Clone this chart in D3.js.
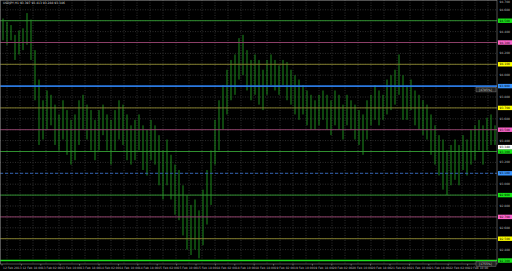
<!DOCTYPE html>
<html>
<head>
<meta charset="utf-8">
<script src="https://cdn.jsdelivr.net/npm/d3@7"></script>
<style>
  html, body { margin: 0; padding: 0; background: #000; }
  svg { display: block; }
</style>
</head>
<body>
<div id="chart"></div>
<script>
// chart header
var symbolTitle = "USDJPY,H1  93.397 93.413 93.288 93.346";

// hourly bars, high / low
var barHigh = [94.52, 94.49, 94.46, 94.37, 94.41, 94.43, 94.57, 94.51, 94.23, 93.96,
  93.77, 93.86, 93.82, 93.73, 93.64, 93.77, 93.68, 93.59, 93.64, 93.77,
  93.82, 93.73, 93.68, 93.59, 93.68, 93.73, 93.64, 93.59, 93.68, 93.77,
  93.73, 93.64, 93.54, 93.59, 93.64, 93.54, 93.50, 93.59, 93.54, 93.45,
  93.31, 93.41, 93.27, 93.18, 93.13, 92.99, 92.90, 92.81, 92.86, 92.76,
  92.95, 93.13, 93.31, 93.59, 93.77, 93.91, 94.05, 94.14, 94.19, 94.34,
  94.37, 94.23, 94.14, 94.19, 94.14, 94.05, 94.14, 94.19, 94.14, 94.09,
  94.14, 94.12, 94.05, 94.00, 93.96, 93.91, 93.86, 93.82, 93.77, 93.82,
  93.86, 93.82, 93.77, 93.86, 93.82, 93.73, 93.82, 93.77, 93.73, 93.68,
  93.64, 93.77, 93.82, 93.91, 93.86, 93.82, 93.96, 94.00, 94.05, 94.19,
  94.00, 93.91, 93.96, 93.86, 93.82, 93.77, 93.73, 93.64, 93.54, 93.45,
  93.41, 93.31, 93.36, 93.41, 93.36, 93.45, 93.41, 93.50, 93.54, 93.59,
  93.54, 93.61, 93.64, 93.54];
var barLow = [94.32, 94.28, 94.32, 94.14, 94.19, 94.23, 94.28, 94.14, 93.77, 93.36,
  93.41, 93.50, 93.54, 93.36, 93.31, 93.41, 93.27, 93.18, 93.22, 93.36,
  93.50, 93.41, 93.31, 93.22, 93.31, 93.45, 93.31, 93.18, 93.31, 93.41,
  93.36, 93.22, 93.18, 93.22, 93.31, 93.13, 93.08, 93.22, 93.18, 92.99,
  92.86, 92.99, 92.86, 92.72, 92.67, 92.53, 92.40, 92.35, 92.40, 92.32,
  92.44, 92.63, 92.81, 93.18, 93.31, 93.50, 93.64, 93.77, 93.82, 93.96,
  94.00, 93.86, 93.77, 93.82, 93.73, 93.68, 93.82, 93.91, 93.86, 93.82,
  93.91, 93.77, 93.73, 93.64, 93.59, 93.64, 93.54, 93.50, 93.50, 93.54,
  93.59, 93.50, 93.45, 93.54, 93.50, 93.41, 93.54, 93.50, 93.41, 93.36,
  93.27, 93.41, 93.54, 93.59, 93.54, 93.59, 93.64, 93.68, 93.73, 93.82,
  93.59, 93.59, 93.68, 93.54, 93.50, 93.45, 93.41, 93.27, 93.18, 93.08,
  92.95, 92.90, 92.99, 93.04, 92.99, 93.13, 93.08, 93.18, 93.22, 93.31,
  93.18, 93.31, 93.36, 93.36];

// horizontal levels drawn on the chart
var levelPrice = [94.50, 94.30, 94.10, 93.90, 93.70, 93.50, 93.30, 93.10, 92.90, 92.70, 92.50, 92.30];
var levelKind  = ["green", "pink", "olive", "blue", "olive", "pink", "green", "blueDash", "green", "pink", "olive", "lime"];

// price scale labels (every 0.10)
var priceTicks = [94.70, 94.60, 94.50, 94.40, 94.30, 94.20, 94.10, 94.00, 93.90, 93.80, 93.70, 93.60,
  93.50, 93.40, 93.30, 93.20, 93.10, 93.00, 92.90, 92.80, 92.70, 92.60, 92.50, 92.40, 92.30];

// time scale labels
var timeLabels = ["12 Feb 2013", "12 Feb 18:00", "13 Feb 02:00", "13 Feb 10:00", "13 Feb 18:00",
  "14 Feb 02:00", "14 Feb 10:00", "14 Feb 18:00", "15 Feb 02:00", "15 Feb 10:00",
  "15 Feb 18:00", "18 Feb 02:00", "18 Feb 10:00", "18 Feb 18:00", "19 Feb 02:00",
  "19 Feb 10:00", "19 Feb 18:00", "20 Feb 02:00", "20 Feb 10:00", "20 Feb 18:00",
  "21 Feb 02:00", "21 Feb 10:00", "21 Feb 18:00", "22 Feb 02:00", "22 Feb 10:00"];

var lastBid = 93.34;

var W = 512, H = 271;
var plotR = 497, plotB = 264;

var lineColor = { green: "#2f8f2f", pink: "#8c3f68", olive: "#7f7b2c", blue: "#2a78e0", blueDash: "#2f5fb0", lime: "#1fe01f" };
var tagColor  = { green: "#19e619", pink: "#ff66cc", olive: "#ffff00", blue: "#3a95ff", blueDash: "#3a95ff", lime: "#19e619" };

var svg = d3.select("#chart").append("svg").attr("width", W).attr("height", H)
  .style("background", "#000");

// one level step = 21.8px
var y = d3.scaleLinear().domain([94.50, 92.30]).range([20.7, 20.7 + 11 * 21.8]);
var x = d3.scaleLinear().domain([0, barHigh.length - 1]).range([3, 495]);

// grid
var gridV = d3.range(7, plotR, 13);
svg.append("g").selectAll("line").data(gridV).enter().append("line")
  .attr("x1", d => d).attr("x2", d => d).attr("y1", 0).attr("y2", plotB)
  .attr("stroke", "#3a3a3a").attr("stroke-width", 0.8).attr("stroke-dasharray", "1,1.5");
svg.append("g").selectAll("line").data(priceTicks).enter().append("line")
  .attr("x1", 0).attr("x2", plotR).attr("y1", d => y(d)).attr("y2", d => y(d))
  .attr("stroke", "#3a3a3a").attr("stroke-width", 0.8).attr("stroke-dasharray", "1,1.5");

// bars
svg.append("g").selectAll("line").data(barHigh).enter().append("line")
  .attr("x1", (d, i) => x(i)).attr("x2", (d, i) => x(i))
  .attr("y1", d => y(d)).attr("y2", (d, i) => y(barLow[i]))
  .attr("stroke", "#1c8c1c").attr("stroke-width", 1);

// level lines
svg.append("g").selectAll("line").data(levelPrice).enter().append("line")
  .attr("x1", 0).attr("x2", plotR).attr("y1", d => y(d)).attr("y2", d => y(d))
  .attr("stroke", (d, i) => lineColor[levelKind[i]])
  .attr("stroke-width", (d, i) => (levelKind[i] == "blue" || levelKind[i] == "lime") ? 1.6 : 1)
  .attr("stroke-dasharray", (d, i) => levelKind[i] == "blueDash" ? "3,2" : null);

// chart frame
svg.append("rect").attr("x", 0.5).attr("y", 0.5).attr("width", plotR - 0.5).attr("height", plotB - 0.5)
  .attr("fill", "none").attr("stroke", "#888").attr("stroke-width", 0.6);

// price axis
var fmt = d3.format(".3f");
svg.append("g").selectAll("text").data(priceTicks).enter().append("text")
  .attr("x", plotR + 2.5).attr("y", d => Math.max(y(d) + 1, 3.2))
  .attr("fill", "#bbb").attr("font-family", "DejaVu Sans").attr("font-size", 3)
  .text(d => fmt(d));

var tags = svg.append("g").selectAll("g").data(levelPrice).enter().append("g")
  .attr("transform", d => "translate(" + (plotR + 1) + "," + y(d) + ")");
tags.append("rect").attr("x", 0).attr("y", -2.2).attr("width", 14).attr("height", 4.4)
  .attr("fill", (d, i) => tagColor[levelKind[i]]);
tags.append("text").attr("x", 1.5).attr("y", 1.1)
  .attr("fill", "#000").attr("font-family", "DejaVu Sans").attr("font-size", 3)
  .text(d => fmt(d));

// bid tag
var bid = svg.append("g").attr("transform", "translate(" + (plotR + 1) + "," + y(lastBid) + ")");
bid.append("rect").attr("x", 0).attr("y", -2.2).attr("width", 14).attr("height", 4.4).attr("fill", "#fff");
bid.append("text").attr("x", 1.5).attr("y", 1.1).attr("fill", "#000")
  .attr("font-family", "DejaVu Sans").attr("font-size", 3).text(fmt(lastBid));

// small percent boxes
var notes = [{ p: levelPrice[3], t: "[4785%]" }, { p: levelPrice[11], t: "[1755%]" }];
var nb = svg.append("g").selectAll("g").data(notes).enter().append("g")
  .attr("transform", d => "translate(476," + (y(d.p) + 1.2) + ")");
nb.append("rect").attr("width", 20).attr("height", 4.6).attr("fill", "#222").attr("stroke", "#777").attr("stroke-width", 0.5);
nb.append("text").attr("x", 3).attr("y", 3.4).attr("fill", "#ccc")
  .attr("font-family", "DejaVu Sans").attr("font-size", 3).text(d => d.t);

// time axis
var tx = d3.scaleLinear().domain([0, timeLabels.length - 1]).range([2, 2 + 24 * 19.4]);
var tg = svg.append("g").selectAll("g").data(timeLabels).enter().append("g")
  .attr("transform", (d, i) => "translate(" + tx(i) + "," + plotB + ")");
tg.append("line").attr("y1", 0).attr("y2", 1.5).attr("stroke", "#999").attr("stroke-width", 0.6);
tg.append("text").attr("x", 1).attr("y", 4.6).attr("fill", "#bbb")
  .attr("font-family", "DejaVu Sans").attr("font-size", 3).text(d => d);

// title
svg.append("text").attr("x", 3).attr("y", 4).attr("fill", "#ddd")
  .attr("font-family", "DejaVu Sans").attr("font-size", 3).text(symbolTitle);
</script>
</body>
</html>
